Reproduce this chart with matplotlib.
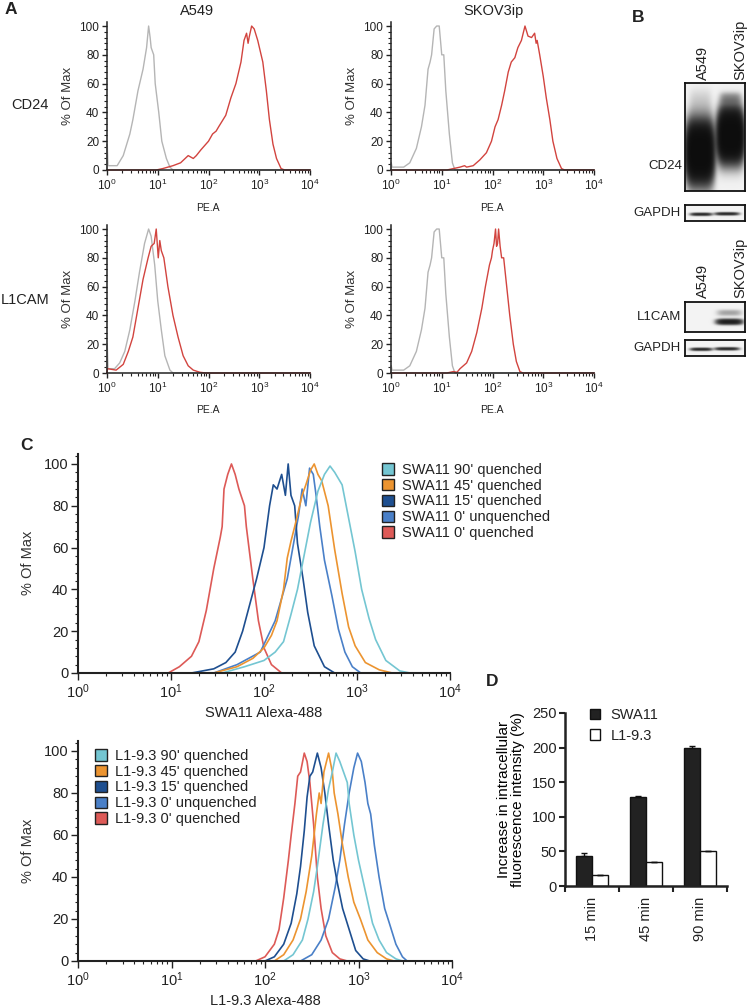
import numpy as np
import matplotlib
matplotlib.use('Agg')
import matplotlib.pyplot as plt
from matplotlib.patches import Patch
from matplotlib.ticker import MultipleLocator, LogLocator, NullFormatter

plt.rcParams['font.family'] = ['Liberation Sans', 'DejaVu Sans']
plt.rcParams['text.color'] = '#222222'
plt.rcParams['axes.edgecolor'] = '#222222'
plt.rcParams['xtick.color'] = '#222222'
plt.rcParams['ytick.color'] = '#222222'

# ---------------- DATA (log10 intensity, % of max) ----------------
# Panel A
a549_cd24_ctrl_log = [0.0, 0.005, 0.02, 0.2, 0.32, 0.45, 0.51, 0.61, 0.71, 0.78, 0.82, 0.85, 0.87, 0.9, 0.92, 0.95, 1.02, 1.08, 1.17, 1.24, 1.3, 4.0]
a549_cd24_ctrl_pct = [0, 18, 3, 3, 10, 25, 35, 55, 70, 85, 100, 92, 85, 82, 80, 60, 40, 20, 8, 2, 0, 0]
a549_cd24_ab_log = [0.0, 0.97, 1.1, 1.3, 1.45, 1.6, 1.7, 1.76, 1.85, 1.9, 2.0, 2.08, 2.15, 2.2, 2.34, 2.44, 2.54, 2.64, 2.7, 2.75, 2.78, 2.8, 2.85, 2.9, 2.97, 3.07, 3.14, 3.2, 3.27, 3.34, 3.43, 3.5, 4.0]
a549_cd24_ab_pct = [0, 0, 1, 3, 5, 10, 8, 10, 14, 16, 20, 25, 27, 30, 38, 50, 60, 75, 90, 95, 88, 92, 100, 98, 90, 75, 55, 35, 18, 8, 1, 0, 0]

a549_l1_ctrl_log = [0.0, 0.005, 0.02, 0.15, 0.25, 0.35, 0.45, 0.55, 0.64, 0.74, 0.82, 0.87, 0.94, 1.0, 1.07, 1.14, 1.24, 1.3, 4.0]
a549_l1_ctrl_pct = [0, 20, 3, 3, 7, 15, 30, 50, 70, 90, 100, 95, 75, 50, 30, 12, 2, 0, 0]
a549_l1_ab_log = [0.0, 0.01, 0.18, 0.32, 0.42, 0.51, 0.61, 0.71, 0.81, 0.87, 0.93, 0.97, 1.01, 1.04, 1.07, 1.12, 1.2, 1.3, 1.4, 1.5, 1.6, 1.7, 1.83, 1.95, 4.0]
a549_l1_ab_pct = [0, 3, 2, 6, 15, 25, 45, 65, 80, 88, 90, 100, 80, 92, 85, 80, 60, 40, 25, 12, 5, 2, 0.5, 0, 0]

skov_ctrl_log = [0.0, 0.005, 0.02, 0.25, 0.37, 0.5, 0.6, 0.67, 0.73, 0.77, 0.8, 0.85, 0.9, 0.95, 1.0, 1.04, 1.08, 1.15, 1.21, 1.26, 4.0]
skov_ctrl_pct = [0, 5, 2, 2, 5, 15, 30, 45, 70, 75, 80, 98, 100, 100, 80, 80, 55, 25, 5, 0, 0]
skov_cd24_ab_log = [0.0, 1.1, 1.23, 1.36, 1.45, 1.49, 1.62, 1.75, 1.88, 1.98, 2.05, 2.11, 2.18, 2.24, 2.31, 2.37, 2.44, 2.5, 2.57, 2.64, 2.7, 2.77, 2.83, 2.86, 2.88, 2.93, 3.0, 3.06, 3.13, 3.19, 3.27, 3.36, 3.42, 4.0]
skov_cd24_ab_pct = [0, 0, 1, 2, 3, 2, 3, 7, 12, 20, 30, 35, 45, 55, 68, 75, 78, 85, 90, 100, 93, 92, 95, 88, 90, 80, 65, 50, 35, 20, 8, 1, 0, 0]
skov_l1_ab_log = [0.0, 1.1, 1.23, 1.3, 1.36, 1.49, 1.59, 1.69, 1.79, 1.86, 1.94, 1.98, 2.0, 2.03, 2.06, 2.08, 2.1, 2.12, 2.15, 2.18, 2.22, 2.28, 2.34, 2.41, 2.47, 2.54, 2.6, 4.0]
skov_l1_ab_pct = [0, 0, 1, 0.5, 3, 7, 15, 28, 45, 60, 75, 80, 85, 90, 100, 88, 90, 100, 88, 80, 80, 60, 40, 20, 8, 1, 0, 0]

# Panel C (top, SWA11)
swa_labels = ["SWA11 90' quenched", "SWA11 45' quenched", "SWA11 15' quenched", "SWA11 0' unquenched", "SWA11 0' quenched"]
swa90_log = [0.0, 1.55, 1.79, 2.0, 2.12, 2.21, 2.29, 2.36, 2.43, 2.5, 2.58, 2.65, 2.71, 2.76, 2.84, 2.91, 2.98, 3.05, 3.13, 3.2, 3.31, 3.46, 3.57, 4.0]
swa90_pct = [0, 0, 3, 6, 10, 15, 28, 40, 56, 72, 87, 95, 99, 96, 90, 74, 58, 40, 26, 16, 6, 1, 0, 0]
swa45_log = [0.0, 1.46, 1.71, 1.88, 2.0, 2.08, 2.14, 2.21, 2.25, 2.29, 2.33, 2.41, 2.45, 2.5, 2.54, 2.58, 2.62, 2.69, 2.76, 2.84, 2.91, 2.98, 3.09, 3.24, 3.38, 4.0]
swa45_pct = [0, 0, 3, 7, 12, 18, 25, 40, 55, 63, 70, 85, 90, 97, 100, 95, 92, 80, 59, 38, 22, 13, 5, 1.5, 0, 0]
swa15_log = [0.0, 1.22, 1.46, 1.59, 1.69, 1.77, 1.86, 1.92, 2.0, 2.06, 2.1, 2.14, 2.19, 2.23, 2.26, 2.29, 2.33, 2.36, 2.42, 2.47, 2.54, 2.65, 2.76, 4.0]
swa15_pct = [0, 0, 2, 5, 10, 20, 35, 45, 60, 80, 90, 88, 95, 85, 100, 85, 80, 62, 45, 29, 13, 3, 0, 0]
swa0u_log = [0.0, 1.46, 1.71, 1.96, 2.12, 2.25, 2.33, 2.37, 2.41, 2.45, 2.49, 2.53, 2.56, 2.6, 2.65, 2.73, 2.8, 2.87, 2.95, 3.04, 4.0]
swa0u_pct = [0, 0, 4, 10, 25, 45, 65, 75, 88, 80, 98, 95, 85, 70, 54, 37, 21, 10, 3, 0, 0]
swa0q_log = [0.0, 0.97, 1.09, 1.22, 1.3, 1.38, 1.46, 1.53, 1.55, 1.57, 1.61, 1.65, 1.69, 1.73, 1.79, 1.81, 1.88, 1.94, 2.0, 2.08, 2.19, 4.0]
swa0q_pct = [0, 0, 3, 8, 15, 30, 50, 65, 70, 88, 95, 100, 95, 88, 80, 70, 45, 25, 12, 4, 0, 0]

# Panel C (bottom, L1-9.3)
l1_labels = ["L1-9.3 90' quenched", "L1-9.3 45' quenched", "L1-9.3 15' quenched", "L1-9.3 0' unquenched", "L1-9.3 0' quenched"]
l190_log = [0.0, 2.2, 2.3, 2.4, 2.46, 2.52, 2.56, 2.62, 2.68, 2.72, 2.76, 2.8, 2.84, 2.88, 2.9, 2.95, 3.0, 3.04, 3.1, 3.15, 3.22, 3.3, 3.4, 3.47, 4.0]
l190_pct = [0, 0, 3, 10, 20, 33, 45, 65, 82, 90, 99, 95, 90, 85, 75, 60, 48, 40, 28, 18, 10, 4, 1, 0, 0]
l145_log = [0.0, 2.1, 2.2, 2.3, 2.38, 2.44, 2.5, 2.55, 2.58, 2.6, 2.63, 2.68, 2.72, 2.74, 2.78, 2.83, 2.89, 2.95, 3.02, 3.1, 3.2, 3.3, 3.38, 4.0]
l145_pct = [0, 0, 3, 10, 20, 33, 50, 70, 80, 75, 90, 99, 90, 80, 70, 55, 40, 28, 20, 10, 4, 1, 0, 0]
l115_log = [0.0, 2.0, 2.1, 2.2, 2.28, 2.34, 2.38, 2.42, 2.45, 2.48, 2.51, 2.56, 2.6, 2.64, 2.68, 2.73, 2.77, 2.83, 2.9, 2.97, 3.05, 3.12, 4.0]
l115_pct = [0, 0, 2, 8, 18, 32, 45, 62, 78, 88, 90, 99, 92, 80, 65, 48, 38, 25, 15, 5, 1, 0, 0]
l10u_log = [0.0, 2.38, 2.5, 2.6, 2.68, 2.75, 2.8, 2.85, 2.9, 2.95, 2.99, 3.03, 3.07, 3.1, 3.13, 3.17, 3.22, 3.28, 3.33, 3.4, 3.47, 3.52, 4.0]
l10u_pct = [0, 0, 3, 10, 20, 35, 48, 65, 80, 92, 99, 95, 85, 75, 70, 55, 40, 25, 18, 8, 2, 0, 0]
l10q_log = [0.0, 1.9, 2.0, 2.1, 2.15, 2.2, 2.25, 2.28, 2.32, 2.35, 2.38, 2.42, 2.45, 2.48, 2.52, 2.56, 2.6, 2.65, 2.72, 2.8, 2.88, 4.0]
l10q_pct = [0, 0, 2, 8, 15, 30, 48, 60, 75, 88, 90, 99, 95, 85, 65, 40, 25, 12, 4, 1, 0, 0]

# Panel D
d_categories = ['15 min', '45 min', '90 min']
d_swa11 = [43, 128, 200]
d_swa11_err = [4, 1.5, 3]
d_l193 = [16, 34, 50]
d_l193_err = [0.5, 0.5, 1.2]

# Panel B blot band descriptors (x-centre, y-centre, x-halfwidth, y-halfwidth, darkness), box-relative
cd24_bands = [(0.25, 0.64, 0.22, 0.26, 4.0), (0.76, 0.49, 0.21, 0.22, 4.0),
              (0.76, 0.14, 0.17, 0.05, 0.35), (0.26, 0.18, 0.18, 0.12, 0.12),
              (0.76, 0.26, 0.17, 0.08, 0.3)]
gapdh_bands = [(0.27, 0.58, 0.17, 0.09, 1.5), (0.70, 0.55, 0.19, 0.09, 1.5)]
l1cam_bands = [(0.74, 0.66, 0.21, 0.09, 1.8), (0.74, 0.36, 0.2, 0.1, 0.3)]

# ---------------- FIGURE ----------------
W, H = 756, 1007
fig = plt.figure(figsize=(W / 100, H / 100), dpi=100)


def rect(x0, y0, x1, y1):
    return [x0 / W, 1 - y1 / H, (x1 - x0) / W, (y1 - y0) / H]


def fx(x):
    return x / W


def fy(y):
    return 1 - y / H


def style_hist(ax, ymax, fs, majlen=4, minlen=2, lw=1.2):
    ax.set_xscale('log')
    ax.set_xlim(1, 1e4)
    ax.set_ylim(0, ymax)
    for s in ['top', 'right']:
        ax.spines[s].set_visible(False)
    for s in ['left', 'bottom']:
        ax.spines[s].set_linewidth(lw)
    ax.yaxis.set_major_locator(MultipleLocator(20))
    ax.yaxis.set_minor_locator(MultipleLocator(4))
    ax.xaxis.set_major_locator(LogLocator(base=10, numticks=10))
    ax.xaxis.set_minor_locator(LogLocator(base=10, subs=np.arange(2, 10), numticks=10))
    ax.xaxis.set_minor_formatter(NullFormatter())
    ax.tick_params(which='major', length=majlen, width=1.0, labelsize=fs, direction='out', pad=2)
    ax.tick_params(which='minor', length=minlen, width=0.8, direction='out')
    ax.patch.set_alpha(0)


def curve(ax, logs, pcts, color, lw=1.0, z=2):
    ax.plot(10 ** np.asarray(logs, dtype=float), pcts, color=color, lw=lw, zorder=z, clip_on=False)


GREY = '#b5b5b5'
RED_A = '#d2443f'

# Panel A axes
axA = [
    (rect(107, 21.7, 310, 170), a549_cd24_ctrl_log, a549_cd24_ctrl_pct, a549_cd24_ab_log, a549_cd24_ab_pct),
    (rect(391, 21.7, 594, 170), skov_ctrl_log, skov_ctrl_pct, skov_cd24_ab_log, skov_cd24_ab_pct),
    (rect(107, 224.7, 310, 373), a549_l1_ctrl_log, a549_l1_ctrl_pct, a549_l1_ab_log, a549_l1_ab_pct),
    (rect(391, 224.7, 594, 373), skov_ctrl_log, skov_ctrl_pct, skov_l1_ab_log, skov_l1_ab_pct),
]
for r, cl, cp, al, ap in axA:
    ax = fig.add_axes(r)
    style_hist(ax, 103, 8.5, majlen=3.5, minlen=2, lw=1.1)
    curve(ax, cl, cp, GREY, lw=1.0)
    curve(ax, al, ap, RED_A, lw=1.0)
    ax.set_ylabel('% Of Max', fontsize=9.5, labelpad=4, color='#333333')

fig.text(fx(197), fy(11), 'A549', fontsize=10.5, ha='center', va='center')
fig.text(fx(493), fy(11), 'SKOV3ip', fontsize=10.5, ha='center', va='center')
for xc in (208, 492):
    fig.text(fx(xc), fy(208), 'PE.A', fontsize=7.5, ha='center', va='center')
    fig.text(fx(xc), fy(410), 'PE.A', fontsize=7.5, ha='center', va='center')
fig.text(fx(30), fy(105), 'CD24', fontsize=10.5, ha='center', va='center')
fig.text(fx(25), fy(300), 'L1CAM', fontsize=10.5, ha='center', va='center')
fig.text(fx(5), fy(10), 'A', fontsize=12.5, fontweight='bold', ha='left', va='center')


# Panel B blots
def blot(r, bands, shape):
    ax = fig.add_axes(r)
    h, w = shape
    yy, xx = np.mgrid[0:h, 0:w]
    xr = (xx + 0.5) / w
    yr = (yy + 0.5) / h
    dens = np.zeros(shape)
    for cx, cy, sx, sy, amp in bands:
        dens += amp * np.exp(-(np.abs((xr - cx) / sx) ** 4 + np.abs((yr - cy) / sy) ** 2.5))
    img = 0.05 + 0.95 * (1 - np.exp(-1.4 * dens))
    ax.imshow(img, cmap='gray_r', vmin=0, vmax=1.05, aspect='auto', interpolation='bilinear')
    ax.set_xticks([])
    ax.set_yticks([])
    for s in ax.spines.values():
        s.set_linewidth(1.3)
        s.set_color('#111111')
    return ax


blot(rect(685, 83, 745, 191), cd24_bands, (216, 120))
blot(rect(685, 205, 745, 221), gapdh_bands, (32, 120))
blot(rect(685, 302, 745, 332), l1cam_bands, (60, 120))
blot(rect(685, 340, 745, 356), gapdh_bands, (32, 120))

fig.text(fx(632), fy(17), 'B', fontsize=12.5, fontweight='bold', ha='left', va='center')
for ybot in (80, 298):
    fig.text(fx(703), fy(ybot), 'A549', fontsize=10.5, rotation=90, ha='center', va='bottom')
    fig.text(fx(740), fy(ybot), 'SKOV3ip', fontsize=10.5, rotation=90, ha='center', va='bottom')
fig.text(fx(682), fy(166), 'CD24', fontsize=9.5, ha='right', va='center')
fig.text(fx(681), fy(213), 'GAPDH', fontsize=9.5, ha='right', va='center')
fig.text(fx(681), fy(317), 'L1CAM', fontsize=9.5, ha='right', va='center')
fig.text(fx(681), fy(348), 'GAPDH', fontsize=9.5, ha='right', va='center')

# Panel C
C_COLORS = ['#74c6d2', '#ec9430', '#1e4f90', '#4a80c8', '#dd5a57']


def panel_c(r, series, labels, xlabel, xlabel_y, legend_xy):
    ax = fig.add_axes(r)
    style_hist(ax, 105, 10.5, majlen=5, minlen=2.5, lw=1.5)
    for (lg, pc), col in list(zip(series, C_COLORS))[::-1]:
        curve(ax, lg, pc, col, lw=1.2)
    ax.set_ylabel('% Of Max', fontsize=10.5, labelpad=6, color='#333333')
    handles = [Patch(facecolor=c, edgecolor='#222222', lw=1.0) for c in C_COLORS]
    ax.legend(handles, labels, loc='upper left', bbox_to_anchor=(fx(legend_xy[0]), fy(legend_xy[1])),
              bbox_transform=fig.transFigure, frameon=False, fontsize=10.5, borderpad=0,
              borderaxespad=0, labelspacing=0.12, handlelength=0.8, handleheight=0.8,
              handletextpad=0.6)
    fig.text(fx((r[0] + r[2] / 2) * W), fy(xlabel_y), xlabel, fontsize=10.5, ha='center', va='center')
    return ax


panel_c(rect(78, 453.5, 450, 673),
        [(swa90_log, swa90_pct), (swa45_log, swa45_pct), (swa15_log, swa15_pct),
         (swa0u_log, swa0u_pct), (swa0q_log, swa0q_pct)],
        swa_labels, 'SWA11 Alexa-488', 713, (382, 463))
panel_c(rect(78, 740.5, 452, 961),
        [(l190_log, l190_pct), (l145_log, l145_pct), (l115_log, l115_pct),
         (l10u_log, l10u_pct), (l10q_log, l10q_pct)],
        l1_labels, 'L1-9.3 Alexa-488', 1001, (95, 749))
fig.text(fx(20), fy(445), 'C', fontsize=12.5, fontweight='bold', ha='left', va='center')

# Panel D
axD = fig.add_axes(rect(565, 713, 727, 886))
xpos = np.arange(len(d_categories))
bw = 0.29
axD.bar(xpos - bw / 2, d_swa11, bw, color='#222222', edgecolor='#111111', lw=1.0,
        yerr=[np.zeros(3), d_swa11_err], capsize=2.5, error_kw=dict(lw=1.0, capthick=1.0, ecolor='#111111'),
        label='SWA11')
axD.bar(xpos + bw / 2, d_l193, bw, color='white', edgecolor='#111111', lw=1.0,
        yerr=[np.zeros(3), d_l193_err], capsize=2.5, error_kw=dict(lw=1.0, capthick=1.0, ecolor='#111111'),
        label='L1-9.3')
axD.set_xlim(-0.5, 2.5)
axD.set_ylim(0, 250)
for s in ['top', 'right']:
    axD.spines[s].set_visible(False)
for s in ['left', 'bottom']:
    axD.spines[s].set_linewidth(1.8)
axD.set_yticks([0, 50, 100, 150, 200, 250])
axD.set_xticks([-0.5, 0.5, 1.5, 2.5])
axD.set_xticklabels([])
axD.set_xticks(xpos, minor=True)
axD.set_xticklabels(d_categories, minor=True, rotation=90)
axD.tick_params(axis='x', which='minor', length=0, pad=8, labelsize=10.5)
axD.tick_params(axis='x', which='major', length=4, width=1.5)
axD.tick_params(axis='y', length=4, width=1.5, labelsize=10.5, pad=2)
axD.set_ylabel('Increase in intracellular\nfluorescence intensity (%)', fontsize=11, labelpad=5,
               linespacing=1.0)
axD.legend(loc='upper left', bbox_to_anchor=(fx(590), fy(708)), bbox_transform=fig.transFigure,
           frameon=False, fontsize=10.5, borderpad=0, borderaxespad=0, handlelength=0.7,
           handleheight=0.7, handletextpad=0.7, labelspacing=0.45)
fig.text(fx(486), fy(681), 'D', fontsize=12.5, fontweight='bold', ha='left', va='center')

fig.savefig('out.png', dpi=100)
